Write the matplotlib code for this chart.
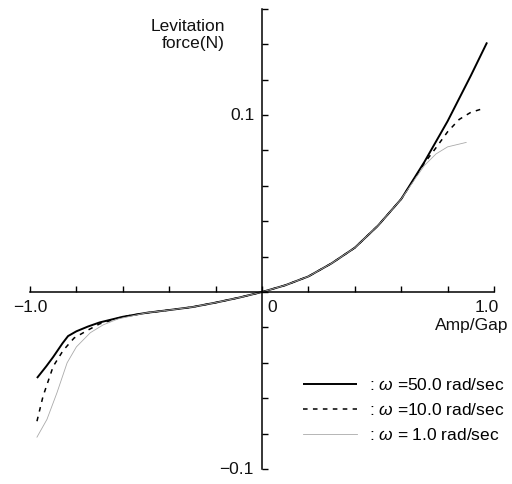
import matplotlib
matplotlib.use("Agg")
import matplotlib.pyplot as plt
import numpy as np

plt.rcParams['font.family'] = ['Liberation Sans', 'DejaVu Sans']
plt.rcParams['mathtext.fontset'] = 'custom'
plt.rcParams['mathtext.it'] = 'Liberation Sans:italic'
plt.rcParams['mathtext.rm'] = 'Liberation Sans'

# ---- data ----
x_50 = [-0.97, -0.93, -0.90, -0.86, -0.836, -0.80, -0.75, -0.70, -0.60, -0.50, -0.40,
        -0.30, -0.20, -0.10, 0.0, 0.10, 0.20, 0.30, 0.40, 0.50, 0.60, 0.70, 0.80, 0.90, 0.97]
y_50 = [-0.0486, -0.042, -0.0367, -0.029, -0.0249, -0.0222, -0.0195, -0.0172, -0.0140,
        -0.0118, -0.0102, -0.0085, -0.0060, -0.0032, 0.0, 0.0038, 0.0088, 0.0162, 0.0250,
        0.0375, 0.0525, 0.0735, 0.0965, 0.1222, 0.141]

x_10 = [-0.97, -0.944, -0.90, -0.857, -0.81, -0.75, -0.70, -0.60, -0.50, -0.40, -0.30,
        -0.20, -0.10, 0.0, 0.10, 0.20, 0.30, 0.40, 0.50, 0.60, 0.70, 0.75, 0.80, 0.85,
        0.90, 0.95]
y_10 = [-0.073, -0.059, -0.042, -0.033, -0.026, -0.0215, -0.0180, -0.0140, -0.0118,
        -0.0102, -0.0085, -0.0060, -0.0032, 0.0, 0.0038, 0.0088, 0.0162, 0.0250, 0.0375,
        0.0525, 0.0728, 0.0815, 0.0905, 0.0975, 0.1015, 0.1035]

x_1 = [-0.97, -0.927, -0.884, -0.84, -0.80, -0.74, -0.685, -0.62, -0.50, -0.40, -0.30,
       -0.20, -0.10, 0.0, 0.10, 0.20, 0.30, 0.40, 0.50, 0.60, 0.70, 0.75, 0.80, 0.88]
y_1 = [-0.082, -0.072, -0.057, -0.040, -0.031, -0.023, -0.0186, -0.0152, -0.0118,
       -0.0102, -0.0085, -0.0060, -0.0032, 0.0, 0.0038, 0.0088, 0.0162, 0.0250, 0.0375,
       0.0525, 0.0715, 0.078, 0.0820, 0.0845]

labels = [r': $\omega$ =50.0 rad/sec', r': $\omega$ =10.0 rad/sec', r': $\omega$ = 1.0 rad/sec']

x_major = np.round(np.arange(-1.0, 1.01, 0.2), 2)
y_ticks = np.round(np.arange(-0.10, 0.161, 0.02), 2)

FS = 12.5

fig = plt.figure(figsize=(5.12, 4.84), dpi=100)
ax = fig.add_axes([0, 0, 1, 1])
ax.set_xlim(-262 / 232, (512 - 262) / 232)
ax.set_ylim(-(484 - 292) / 1770, 292 / 1770)
ax.patch.set_visible(False)

for s in ['top', 'right']:
    ax.spines[s].set_visible(False)
ax.spines['left'].set_position(('data', 0))
ax.spines['bottom'].set_position(('data', 0))
ax.spines['left'].set_bounds(-0.10, 0.16)
ax.spines['bottom'].set_bounds(-1.0, 1.0)
for s in ['left', 'bottom']:
    ax.spines[s].set_linewidth(1.1)

ax.set_xticks(x_major)
ax.set_yticks(y_ticks)
ax.tick_params(axis='x', direction='in', length=4, width=1, labelbottom=False)
ax.tick_params(axis='y', direction='in', length=4, width=1, labelleft=False)

l50, = ax.plot(x_50, y_50, color='black', lw=1.4, solid_capstyle='butt')
l10, = ax.plot(x_10, y_10, color='black', lw=1.1, linestyle=(0, (3, 3.5)))
l1, = ax.plot(x_1, y_1, color='#aaaaaa', lw=0.6)

tk = dict(fontsize=FS, color='#111111')
ax.text(-1.0, -0.009, '\u22121.0', ha='center', va='center', **tk)
ax.text(0.045, -0.009, '0', ha='center', va='center', **tk)
ax.text(0.97, -0.009, '1.0', ha='center', va='center', **tk)
ax.text((508 - 262) / 232, -0.019, 'Amp/Gap', ha='right', va='center', **tk)
ax.text(-0.03, 0.10, '0.1', ha='right', va='center', **tk)
ax.text(-0.035, -0.10, '\u22120.1', ha='right', va='center', **tk)
ax.text(-0.16, 0.145, 'Levitation\nforce(N)', ha='right', va='center',
        multialignment='right', linespacing=1.15, **tk)

leg = ax.legend([l50, l10, l1], labels, loc='upper left',
                bbox_to_anchor=(303 / 512, 1 - 377 / 484), bbox_transform=fig.transFigure,
                frameon=False, fontsize=FS, handlelength=3.1, handletextpad=0.7,
                labelspacing=0.52, borderpad=0, borderaxespad=0)

fig.savefig('out.png', dpi=100)
